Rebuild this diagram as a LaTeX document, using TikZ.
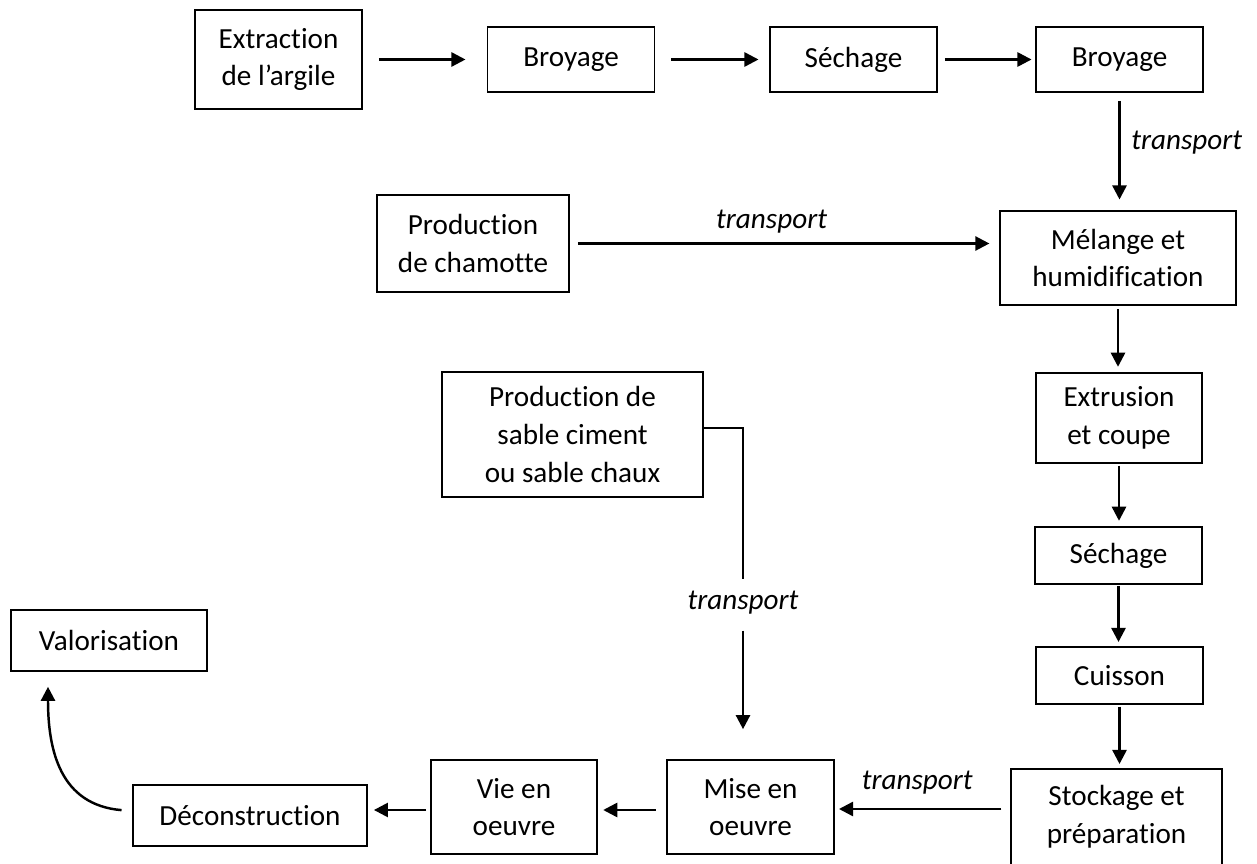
\documentclass[tikz,border=0pt]{standalone}
\usepackage{fontspec}
\setmainfont{Carlito}[Ligatures={TeX,NoCommon}]
\usetikzlibrary{arrows.meta}

\begin{document}
\begin{tikzpicture}[x=0.02cm, y=-0.02cm,
  every node/.style={font=\fontsize{16.6}{21.5}\selectfont},
  box/.style={draw, line width=1.1pt, inner sep=0pt, align=center},
  arr/.style={-{Triangle[length=8pt,width=8pt]}, line width=1.4pt},
  lbl/.style={font=\fontsize{16.6}{21.5}\selectfont\itshape, inner sep=0pt}]
\path[use as bounding box, fill=white] (0,0) rectangle (1257,864);
% top row
\node[box, minimum width=3.34cm, minimum height=1.98cm] (extr) at (278.5,59.5) {Extraction\\de l’argile};
\node[box, minimum width=3.34cm, minimum height=1.3cm] (broy1) at (571,59.5) {Broyage};
\node[box, minimum width=3.34cm, minimum height=1.3cm] (sech1) at (853.5,59.5) {Séchage};
\node[box, minimum width=3.34cm, minimum height=1.3cm] (broy2) at (1119.5,59.5) {Broyage};
% right column
\node[box, minimum width=4.72cm, minimum height=1.88cm] (melange) at (1118,258) {Mélange et\\humidification};
\node[box, minimum width=3.32cm, minimum height=1.8cm] (extru) at (1119,418) {Extrusion\\et coupe};
\node[box, minimum width=3.34cm, minimum height=1.14cm] (sech2) at (1118.5,555.5) {Séchage};
\node[box, minimum width=3.34cm, minimum height=1.14cm] (cuis) at (1119.5,675.5) {Cuisson};
\node[box, minimum width=4.22cm, minimum height=1.92cm] (stock) at (1116.5,817) {Stockage et\\préparation};
% other inputs
\node[box, minimum width=3.84cm, minimum height=1.94cm] (chamotte) at (473,243.5) {Production\\de chamotte};
\node[box, minimum width=5.22cm, minimum height=2.5cm] (sable) at (572.5,434.5) {Production de\\sable ciment\\ou sable chaux};
% bottom row
\node[box, minimum width=3.34cm, minimum height=1.88cm] (mise) at (750.5,807) {Mise en\\oeuvre};
\node[box, minimum width=3.32cm, minimum height=1.88cm] (vie) at (514,807) {Vie en\\oeuvre};
\node[box, minimum width=4.68cm, minimum height=1.22cm] (decon) at (250,815.5) {Déconstruction};
\node[box, minimum width=3.92cm, minimum height=1.22cm] (valor) at (109,640.5) {Valorisation};

\draw[arr, shorten <=9pt, shorten >=12pt] (extr.east) -- (broy1.west);
\draw[arr, shorten <=9pt, shorten >=6pt] (broy1.east) -- (sech1.west);
\draw[arr, shorten <=4pt, shorten >=2pt] (sech1.east) -- (broy2.west);
\draw[arr, shorten <=4.5pt, shorten >=6pt] (broy2.south) -- (broy2.south |- melange.north)
  node[lbl, pos=0.42, right=6pt] (tr1) {transport};
\draw[arr, shorten <=4.5pt, shorten >=5.5pt] (chamotte.east) -- (chamotte.east -| melange.west)
  node[lbl, pos=0.47, above=5pt] (tr2) {transport};
\draw[arr, shorten <=2pt, shorten >=3pt] (melange.south) -- (melange.south |- extru.north);
\draw[arr, shorten <=1pt, shorten >=3pt] (extru.south) -- (extru.south |- sech2.north);
\draw[arr, shorten <=0.5pt, shorten >=2.3pt] (sech2.south) -- (sech2.south |- cuis.north);
\draw[arr, shorten <=1pt, shorten >=2.3pt] (cuis.south) -- (cuis.south |- stock.north);
\draw[arr, shorten <=5pt, shorten >=2.3pt] (stock.west |- 0,809) -- (mise.east |- 0,809)
  node[lbl, pos=0.53, above=8pt] (tr3) {transport};
\draw[arr, shorten <=6pt, shorten >=3pt] (mise.west |- 0,810) -- (vie.east |- 0,810);
\draw[arr, shorten <=2.3pt, shorten >=3.4pt] (vie.west |- 0,810) -- (decon.east |- 0,810);
% sable -> mise en oeuvre
\coordinate (bend) at (743,428);
\node[lbl] (tr4) at (743,603) {transport};
\draw[line width=0.8pt, shorten >=7pt] (sable.east |- bend) -- (bend) -- (tr4.north);
\draw[arr, shorten <=9pt, shorten >=17pt] (tr4.south) -- (bend |- mise.north);
% deconstruction -> valorisation
\coordinate (valin) at (48,671);
\draw[arr, shorten <=6pt, shorten >=9pt] (decon.west |- 0,811) .. controls (60,805) and (48,750) .. (valin);
\end{tikzpicture}
\end{document}
